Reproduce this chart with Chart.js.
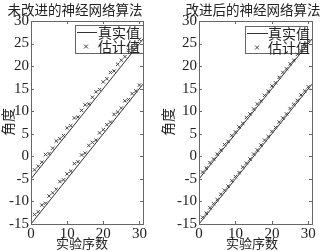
<!DOCTYPE html>
<html><head><meta charset="utf-8">
<script src="https://cdn.jsdelivr.net/npm/chart.js@4/dist/chart.umd.min.js"></script>
<style>
html,body{margin:0;padding:0;background:#fff;}
#wrap{position:relative;width:322px;height:251px;overflow:hidden;}
canvas{position:absolute;top:0;}
</style></head>
<body><div id="wrap"><canvas id="c1" width="161" height="251" style="left:0"></canvas><canvas id="c2" width="161" height="251" style="left:161px"></canvas></div>
<script>
// ---- data ----
const titles = ['未改进的神经网络算法', '改进后的神经网络算法'];
const xLabel = '实验序数';
const yLabel = '角度';
const legendLabels = ['真实值', '估计值'];
const xTicks = [0, 10, 20, 30];
const yTicks = [-15, -10, -5, 0, 5, 10, 15, 20, 25, 30];
const sampleIdx = [1,2,3,4,5,6,7,8,9,10,11,12,13,14,15,16,17,18,19,20,21,22,23,24,25,26,27,28,29,30];
const trueX = [0, 31];
const trueUpper = [-5, 26];
const trueLower = [-15, 16];
const estUpperA = [-3.0,-2.2,-1.3,0.4,0.6,1.8,3.4,3.9,4.6,6.3,6.8,8.5,8.7,10.2,11.4,11.6,13.1,14.3,14.8,16.5,17.2,18.6,18.9,20.4,21.3,22.1,23.5,24.0,24.8,25.9];
const estLowerA = [-12.9,-12.3,-10.8,-10.4,-8.8,-8.1,-7.3,-5.6,-5.2,-3.9,-3.3,-1.6,-1.2,0.3,0.7,2.4,3.1,3.6,5.2,5.9,7.0,7.6,9.3,9.8,10.7,12.3,12.6,13.9,14.5,15.8];
const estUpperB = [-3.5,-2.6,-1.4,-0.6,0.5,1.4,2.6,3.3,4.6,5.4,6.5,7.3,8.6,9.4,10.5,11.6,12.3,13.5,14.4,15.6,16.3,17.5,18.6,19.4,20.5,21.3,22.6,23.4,24.5,25.5];
const estLowerB = [-13.5,-12.6,-11.4,-10.5,-9.6,-8.4,-7.5,-6.6,-5.4,-4.5,-3.6,-2.4,-1.5,-0.6,0.5,1.4,2.5,3.6,4.4,5.5,6.4,7.6,8.5,9.4,10.6,11.5,12.4,13.6,14.5,15.4];

const CJK = '"Noto Sans CJK SC", sans-serif';
const SERIF = '"Liberation Serif", "DejaVu Serif", serif';

function pts(xs, ys){ return xs.map((x,i)=>({x:x, y:ys[i]})); }

function makeChart(id, cfg){
  const decor = {
    id:'decor',
    beforeDatasetsDraw(chart){
      const ctx = chart.ctx;
      const L = cfg.legend;
      ctx.save();
      ctx.fillStyle = '#fff';
      ctx.strokeStyle = '#666';
      ctx.lineWidth = 1;
      ctx.fillRect(L.x, L.y, L.w, L.h);
      ctx.strokeRect(L.x + 0.5, L.y + 0.5, L.w, L.h);
      ctx.strokeStyle = '#333';
      ctx.beginPath();
      ctx.moveTo(L.x + 2, L.y + 7.5); ctx.lineTo(L.x + L.lineLen, L.y + 7.5);
      ctx.stroke();
      const mx = L.x + L.markX, my = L.y + 21.5;
      ctx.strokeStyle = '#444';
      ctx.beginPath();
      ctx.moveTo(mx - 2, my - 2); ctx.lineTo(mx + 2, my + 2);
      ctx.moveTo(mx - 2, my + 2); ctx.lineTo(mx + 2, my - 2);
      ctx.stroke();
      ctx.fillStyle = '#222';
      ctx.font = '14px ' + CJK;
      ctx.textBaseline = 'middle';
      ctx.textAlign = 'left';
      ctx.fillText(legendLabels[0], L.x + L.textX, L.y + 8);
      ctx.fillText(legendLabels[1], L.x + L.textX, L.y + 22);
      ctx.restore();
    },
    afterDraw(chart){
      const ctx = chart.ctx;
      const a = chart.chartArea;
      const xs = chart.scales.x, ys = chart.scales.y;
      ctx.save();
      ctx.strokeStyle = '#666';
      ctx.lineWidth = 1;
      ctx.strokeRect(Math.round(a.left) + 0.5, Math.round(a.top) + 0.5, Math.round(a.right - a.left), Math.round(a.bottom - a.top));
      ctx.beginPath();
      xTicks.forEach(v=>{
        const p = Math.round(xs.getPixelForValue(v)) + 0.5;
        ctx.moveTo(p, a.bottom); ctx.lineTo(p, a.bottom - 3);
        ctx.moveTo(p, a.top); ctx.lineTo(p, a.top + 3);
      });
      yTicks.forEach(v=>{
        const p = Math.round(ys.getPixelForValue(v)) + 0.5;
        ctx.moveTo(a.left, p); ctx.lineTo(a.left + 3, p);
        ctx.moveTo(a.right, p); ctx.lineTo(a.right - 3, p);
      });
      ctx.stroke();
      ctx.fillStyle = '#222';
      ctx.textAlign = 'center';
      ctx.textBaseline = 'middle';
      ctx.font = '13.5px ' + CJK;
      ctx.fillText(cfg.title, cfg.titleX, 10);
      ctx.font = '13px ' + CJK;
      ctx.fillText(xLabel, cfg.xLabelX, 243);
      ctx.translate(cfg.yLabelX, 122);
      ctx.rotate(-Math.PI/2);
      ctx.font = '14px ' + CJK;
      ctx.fillText(yLabel, 0, 0);
      ctx.restore();
    }
  };
  const tickFont = {family: SERIF, size: 15};
  return new Chart(document.getElementById(id), {
    type: 'scatter',
    data: {
      datasets: [
        {data: pts(trueX, trueUpper), showLine: true, borderColor: '#333', borderWidth: 1, pointRadius: 0, order: 1},
        {data: pts(trueX, trueLower), showLine: true, borderColor: '#333', borderWidth: 1, pointRadius: 0, order: 1},
        {data: pts(sampleIdx, cfg.up), pointStyle: 'crossRot', pointRadius: 2.4, borderColor: '#444', borderWidth: 1, order: 0},
        {data: pts(sampleIdx, cfg.low), pointStyle: 'crossRot', pointRadius: 2.4, borderColor: '#444', borderWidth: 1, order: 0}
      ]
    },
    options: {
      responsive: false, animation: false, devicePixelRatio: 1,
      layout: {padding: {left: 0, right: cfg.padRight, top: 21, bottom: 0}},
      plugins: {legend: {display: false}, tooltip: {enabled: false}, title: {display: false}},
      scales: {
        x: {type: 'linear', min: 0, max: 31,
            afterBuildTicks: s => { s.ticks = xTicks.map(v=>({value:v})); },
            afterFit: s => { s.height = 27; },
            grid: {display: false, drawTicks: false}, border: {display: false},
            ticks: {font: tickFont, color: '#222', padding: 1, maxRotation: 0}},
        y: {type: 'linear', min: -15, max: 30,
            afterBuildTicks: s => { s.ticks = yTicks.map(v=>({value:v})); },
            afterFit: s => { s.width = cfg.yWidth; },
            grid: {display: false, drawTicks: false}, border: {display: false},
            ticks: {font: tickFont, color: '#222', padding: 2}}
      }
    },
    plugins: [decor]
  });
}

makeChart('c1', {up: estUpperA, low: estLowerA, title: titles[0], titleX: 75, xLabelX: 82, yLabelX: 8,
  padRight: 18, yWidth: 31,
  legend: {x: 75, y: 25, w: 68, h: 28, lineLen: 22, markX: 11, textX: 23}});
makeChart('c2', {up: estUpperB, low: estLowerB, title: titles[1], titleX: 92, xLabelX: 91, yLabelX: 7,
  padRight: 10, yWidth: 38,
  legend: {x: 84, y: 26, w: 62, h: 27, lineLen: 23, markX: 12, textX: 23}});
</script>
</body></html>
